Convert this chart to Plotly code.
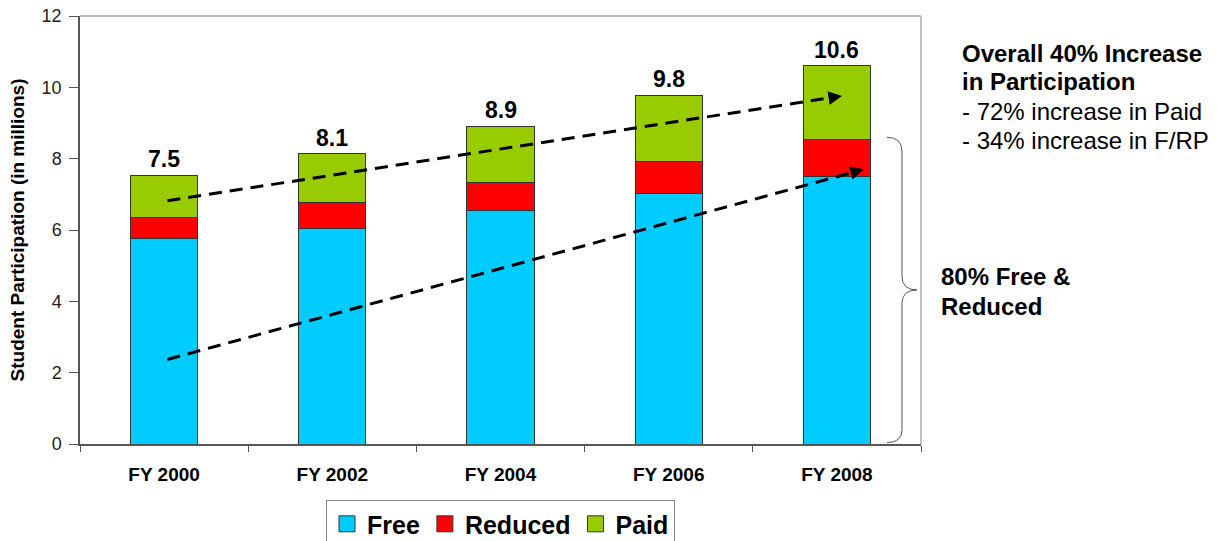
import plotly.graph_objects as go

years = ['FY 2000', 'FY 2002', 'FY 2004', 'FY 2006', 'FY 2008']
free = [5.75, 6.03, 6.56, 7.01, 7.50]
reduced = [0.61, 0.74, 0.76, 0.92, 1.04]
paid = [1.18, 1.37, 1.59, 1.85, 2.06]
total_labels = ['7.5', '8.1', '8.9', '9.8', '10.6']

# trend arrows, (category index, value)
paid_trend_x = [0.02, 4.03]
paid_trend_y = [6.82, 9.76]
frp_trend_x = [0.02, 4.16]
frp_trend_y = [2.37, 7.70]

FONT = 'Arial, Liberation Sans, sans-serif'
series = [('Free', free, '#00CCFF'), ('Reduced', reduced, '#FF0000'), ('Paid', paid, '#99CC00')]

fig = go.Figure()
for name, vals, col in series:
    fig.add_trace(go.Bar(x=years, y=vals, name=name, marker_color=col, showlegend=False,
                         legendgroup=name, marker_line=dict(color='#333333', width=1)))
# bigger square swatches for the legend
for name, vals, col in series:
    fig.add_trace(go.Scatter(x=[None], y=[None], mode='markers', name=name, legendgroup=name,
                             marker=dict(symbol='square', size=18, color=col,
                                         line=dict(color='#333333', width=1))))

totals = [f + r + p for f, r, p in zip(free, reduced, paid)]
for i, t in enumerate(totals):
    fig.add_annotation(x=years[i], y=t, text='<b>' + total_labels[i] + '</b>', showarrow=False,
                       yanchor='bottom', yshift=1, font=dict(size=23, color='black', family=FONT))

# dashed trend lines with arrow heads
for tx, ty in [(paid_trend_x, paid_trend_y), (frp_trend_x, frp_trend_y)]:
    slope = (ty[1] - ty[0]) / (tx[1] - tx[0])
    fig.add_shape(type='line', xref='x', yref='y', x0=tx[0], y0=ty[0],
                  x1=tx[1] - 0.06, y1=ty[1] - 0.06 * slope,
                  line=dict(color='black', width=3, dash='13px,8px'))
    fig.add_annotation(x=tx[1], y=ty[1], ax=tx[1] - 0.07, ay=ty[1] - 0.07 * slope,
                       xref='x', yref='y', axref='x', ayref='y', text='', showarrow=True,
                       arrowhead=2, arrowsize=0.9, arrowwidth=3, arrowcolor='black', standoff=0)

# curly brace for free & reduced
fig.add_shape(type='path', xref='paper', yref='y', layer='above',
              path='M 0.9596,8.6 Q 0.9774,8.6 0.9774,8.2 L 0.9774,4.7 Q 0.9774,4.32 0.9952,4.32 '
                   'Q 0.9774,4.32 0.9774,3.94 L 0.9774,0.4 Q 0.9774,0.04 0.9596,0.04',
              line=dict(color='#555555', width=1))

# frame top/right
fig.add_shape(type='line', xref='paper', yref='paper', x0=0, x1=1, y0=1, y1=1,
              line=dict(color='#AAAAAA', width=1.5))
fig.add_shape(type='line', xref='paper', yref='paper', x0=1, x1=1, y0=0, y1=1,
              line=dict(color='#AAAAAA', width=1.5))

def side_text(txt, px, py, size, bold):
    fig.add_annotation(xref='paper', yref='paper', x=(px - 80) / 841, y=(444 - py) / 428,
                       xanchor='left', yanchor='middle', showarrow=False,
                       text=('<b>%s</b>' % txt) if bold else txt,
                       font=dict(size=size, color='black', family=FONT))

side_text('Overall 40% Increase', 960, 53, 24, True)
side_text('in Participation', 960, 82, 24, True)
side_text('- 72% increase in Paid', 960, 111, 24, False)
side_text('- 34% increase in F/RP', 960, 141, 24, False)
side_text('80% Free &amp;', 939, 276, 24, True)
side_text('Reduced', 939, 306, 24, True)

fig.update_layout(
    width=1225, height=541, barmode='stack', bargap=0.6,
    margin=dict(l=80, r=304, t=16, b=97, autoexpand=False),
    plot_bgcolor='white', paper_bgcolor='white',
    font=dict(family=FONT, color='black'),
    showlegend=True,
    legend=dict(orientation='h', x=0.5, xanchor='center', y=-0.131, yanchor='top',
                font=dict(size=25, family=FONT, color='black', weight='bold'),
                bordercolor='#888888', borderwidth=1, traceorder='normal',
                itemwidth=30, tracegroupgap=0),
)
fig.update_xaxes(type='category', tickson='boundaries', ticks='outside', ticklen=6,
                 tickcolor='#555555', showline=True, linecolor='#555555', linewidth=1.5,
                 tickfont=dict(size=19, family=FONT, color='black', weight='bold'),
                 ticklabelstandoff=12, showgrid=False, range=[-0.5, 4.5])
fig.update_yaxes(range=[0, 12], dtick=2, ticks='outside', ticklen=9, tickcolor='#555555',
                 showline=True, linecolor='#555555', linewidth=1.5, showgrid=False, zeroline=False,
                 tickfont=dict(size=18, family=FONT, color='#222222'), ticklabelstandoff=4,
                 ticklabeloverflow='allow',
                 title=dict(text='<b>Student Participation (in millions)</b>', standoff=12,
                            font=dict(size=19, family=FONT, color='black')))

# drop the default 8px page margin so the figure sits at the window's corner
fig.write_html('out.html', config={'displayModeBar': False},
               post_script="document.body.style.margin='0px';")
